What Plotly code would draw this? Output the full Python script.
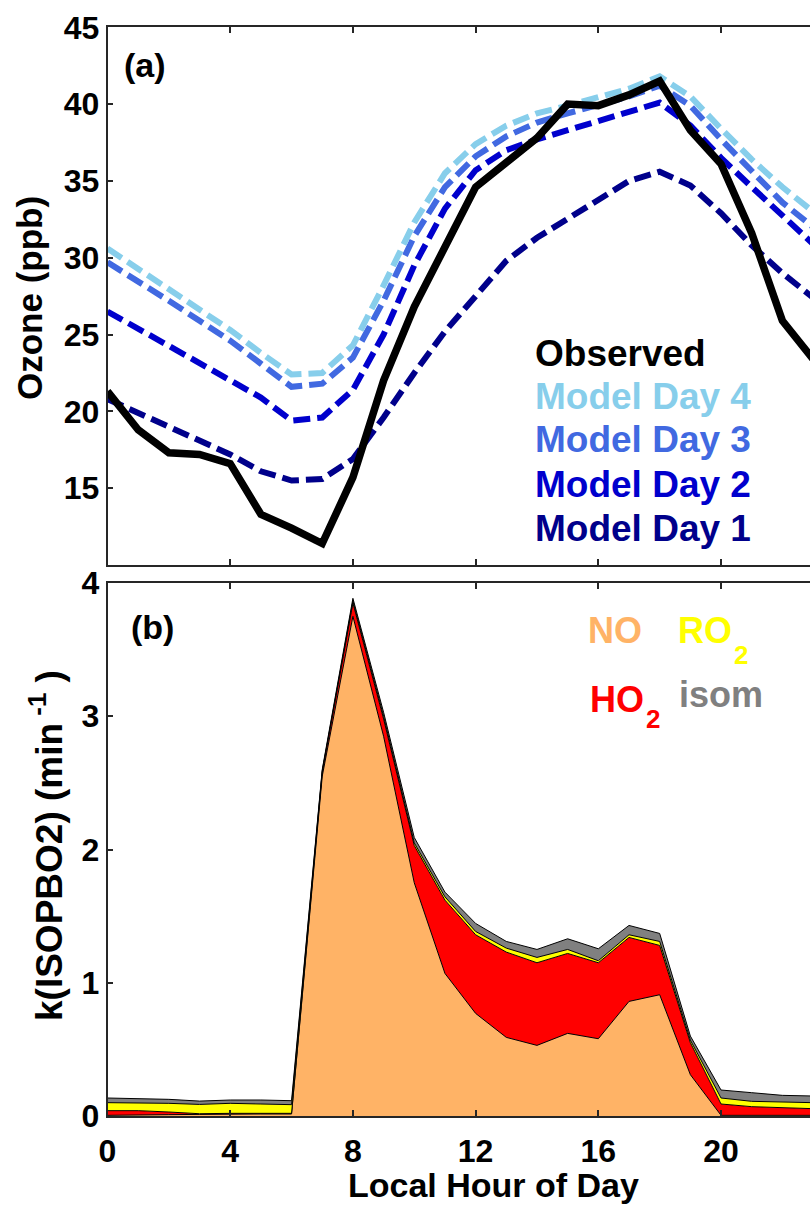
import plotly.graph_objects as go

# ---------------- data ----------------
hours = list(range(24))

observed = [21.3, 18.8, 17.3, 17.2, 16.6, 13.3, 12.4, 11.4, 15.7, 22.0, 26.8, 30.6,
            34.6, 36.2, 37.8, 40.0, 39.9, 40.6, 41.5, 38.3, 36.1, 31.6, 25.9, 23.4]
model_day4 = [30.6, 29.3, 28.0, 26.7, 25.3, 23.8, 22.4, 22.5, 24.3, 28.2, 32.3, 35.5,
              37.4, 38.6, 39.4, 39.9, 40.4, 41.0, 41.8, 40.5, 38.4, 36.4, 34.6, 33.0]
model_day3 = [29.7, 28.5, 27.2, 25.9, 24.6, 23.1, 21.6, 21.8, 23.5, 27.2, 31.4, 34.6,
              36.6, 37.9, 38.8, 39.4, 39.9, 40.5, 41.2, 39.9, 37.7, 35.6, 33.6, 32.0]
model_day2 = [26.5, 25.4, 24.3, 23.2, 22.1, 20.9, 19.4, 19.6, 21.4, 25.0, 29.5, 33.2,
              35.7, 37.0, 37.7, 38.3, 38.8, 39.4, 40.1, 38.6, 36.5, 34.6, 32.8, 30.9]
model_day1 = [20.8, 19.9, 19.0, 18.1, 17.2, 16.1, 15.5, 15.6, 16.9, 19.6, 22.5, 25.2,
              27.5, 29.8, 31.3, 32.5, 33.8, 35.0, 35.6, 34.7, 32.9, 30.8, 29.0, 27.4]

k_no = [0.005, 0.005, 0.01, 0.012, 0.015, 0.015, 0.015, 2.55, 3.75, 2.85, 1.75, 1.07,
        0.77, 0.59, 0.53, 0.62, 0.58, 0.86, 0.91, 0.31, 0.005, 0.005, 0.005, 0.005]
k_ho2 = [0.035, 0.035, 0.02, 0.005, 0.005, 0.005, 0.005, 0.03, 0.10, 0.13, 0.28, 0.55,
         0.59, 0.64, 0.62, 0.60, 0.57, 0.48, 0.37, 0.24, 0.085, 0.065, 0.055, 0.05]
k_ro2 = [0.06, 0.06, 0.065, 0.07, 0.075, 0.07, 0.065, 0.01, 0.015, 0.02, 0.02, 0.025,
         0.025, 0.03, 0.04, 0.03, 0.015, 0.02, 0.03, 0.02, 0.045, 0.04, 0.045, 0.045]
k_isom = [0.035, 0.03, 0.03, 0.025, 0.025, 0.03, 0.03, 0.01, 0.02, 0.03, 0.04, 0.035,
          0.06, 0.05, 0.06, 0.08, 0.09, 0.07, 0.06, 0.03, 0.06, 0.065, 0.05, 0.05]

x_ticks = [0, 4, 8, 12, 16, 20]
x_ticktext = ["0", "4", "8", "12", "16", "20"]
ozone_ticks = [15, 20, 25, 30, 35, 40, 45]
k_ticks = [0, 1, 2, 3, 4]

# ---------------- styling ----------------
W, H = 810, 1207
FONT = "Liberation Sans, Arial, sans-serif"
C_D4, C_D3, C_D2, C_D1 = "#87CEEB", "#4169E1", "#0000CD", "#00008B"
C_NO, C_HO2, C_RO2, C_ISOM = "#FFB366", "#FF0000", "#FFFF00", "#808080"


def px(x):
    return x / W


def py(y):
    return 1 - y / H


fig = go.Figure()

dash = "17px,7px"
for name, vals, col in [("Model Day 1", model_day1, C_D1), ("Model Day 2", model_day2, C_D2),
                        ("Model Day 3", model_day3, C_D3), ("Model Day 4", model_day4, C_D4)]:
    fig.add_trace(go.Scatter(x=hours, y=vals, mode="lines", name=name,
                             line=dict(color=col, width=6, dash=dash),
                             xaxis="x", yaxis="y", showlegend=False))
fig.add_trace(go.Scatter(x=hours, y=observed, mode="lines", name="Observed",
                         line=dict(color="black", width=7.5), xaxis="x", yaxis="y",
                         showlegend=False))

for name, vals, col in [("NO", k_no, C_NO), ("HO2", k_ho2, C_HO2),
                        ("RO2", k_ro2, C_RO2), ("isom", k_isom, C_ISOM)]:
    fig.add_trace(go.Scatter(x=hours, y=vals, mode="lines", name=name,
                             stackgroup="k", fillcolor=col,
                             line=dict(color="black", width=1),
                             xaxis="x2", yaxis="y2", showlegend=False))

tickfont = dict(family=FONT, size=32, color="black", weight="bold")
xdom = [px(107.5), 1]
axcommon = dict(showline=True, linecolor="#262626", linewidth=1.5, ticks="inside",
                ticklen=6, tickwidth=1.5, tickcolor="#262626", showgrid=False,
                zeroline=False, automargin=False, tickfont=tickfont)

fig.update_layout(
    width=W, height=H,
    margin=dict(l=0, r=0, t=0, b=0),
    paper_bgcolor="white", plot_bgcolor="white",
    showlegend=False,
    xaxis=dict(domain=xdom, range=[0, 22.9], tickmode="array", tickvals=x_ticks,
               showticklabels=False, mirror="ticks", anchor="y", **axcommon),
    yaxis=dict(domain=[py(565), py(27.3)], range=[10, 45], tickmode="array",
               tickvals=ozone_ticks, anchor="x", **axcommon),
    xaxis2=dict(domain=xdom, range=[0, 22.9], tickmode="array", tickvals=x_ticks,
                ticktext=x_ticktext, mirror="ticks", anchor="y2", tickangle=0,
                ticklabeloverflow="allow", ticklabelstandoff=6, **axcommon),
    yaxis2=dict(domain=[py(1116), py(583)], range=[0, 4], tickmode="array",
                tickvals=k_ticks, anchor="x2", **axcommon),
)


def txt(text, x, y, size, color="black", xanchor="left", yanchor="middle", angle=0):
    fig.add_annotation(text=text, x=px(x), y=py(y), xref="paper", yref="paper",
                       xanchor=xanchor, yanchor=yanchor, showarrow=False,
                       textangle=angle,
                       font=dict(family=FONT, size=size, color=color, weight="bold"))


# panel labels
txt("(a)", 145, 65, 34, xanchor="center")
txt("(b)", 152, 627, 34, xanchor="center")

# top legend
leg_x = 533
txt("Observed", leg_x, 354, 37, "black")
txt("Model Day 4", leg_x, 397, 37, C_D4)
txt("Model Day 3", leg_x, 440, 37, C_D3)
txt("Model Day 2", leg_x, 484, 37, C_D2)
txt("Model Day 1", leg_x, 528, 37, C_D1)

# bottom legend
txt("NO", 586, 630, 36, C_NO)
txt("RO", 676, 630, 36, C_RO2)
txt("2", 732, 655, 26, C_RO2)
txt("HO", 588, 699, 36, C_HO2)
txt("2", 644, 719, 26, C_HO2)
txt("isom", 677, 694, 36, C_ISOM)

# axis titles
txt("Ozone (ppb)", 30, 298, 35, xanchor="center", angle=-90)
txt("k(ISOPBO2) (min<sup> -1</sup> )", 46, 846, 37, xanchor="center", angle=-90)
txt("Local Hour of Day", 494, 1206, 34, xanchor="center", yanchor="bottom")

fig.write_html("out.html")
